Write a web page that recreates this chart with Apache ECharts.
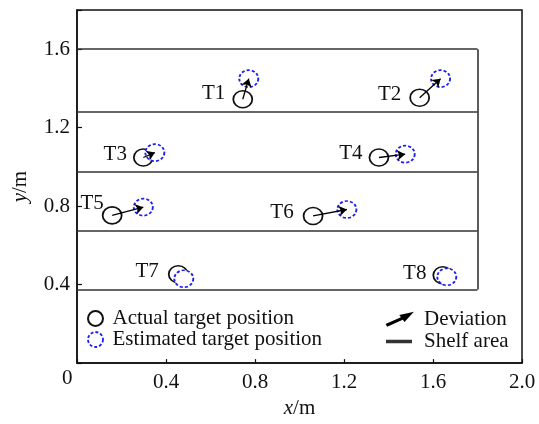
<!DOCTYPE html>
<html>
<head>
<meta charset="utf-8">
<script src="https://cdn.jsdelivr.net/npm/echarts@6/dist/echarts.min.js"></script>
<style>
  html, body { margin: 0; padding: 0; background: #fff; }
  #main { width: 539px; height: 424px; }
</style>
</head>
<body>
<div id="main"></div>
<script>
// targets (metres)
var targetNames = ["T1", "T2", "T3", "T4", "T5", "T6", "T7", "T8"];
var actualX = [0.745, 1.54, 0.298, 1.357, 0.158, 1.061, 0.455, 1.644];
var actualY = [1.345, 1.353, 1.048, 1.048, 0.753, 0.750, 0.453, 0.448];
var estX = [0.772, 1.634, 0.350, 1.475, 0.298, 1.213, 0.480, 1.662];
var estY = [1.450, 1.450, 1.073, 1.065, 0.795, 0.783, 0.430, 0.440];

// shelf boundaries
var shelfY = [1.6, 1.28, 0.975, 0.675, 0.375];
var shelfEnd = 1.8;

var xTicks = [0.4, 0.8, 1.2, 1.6, 2.0];
var yTicks = [0.4, 0.8, 1.2, 1.6];

var serif = '"Liberation Serif", "DejaVu Serif", serif';
var chart = echarts.init(document.getElementById("main"));

// label nudges [dx, dy] for T1..T8
var labelNudge = [[-1, -6], [-2, -3], [0, -3], [0, -4], [8, -12], [-3, -3], [-3, -3], [0, -2]];

var actualData = [], estData = [], arrowData = [], shelfData = [];
for (var i = 0; i < targetNames.length; i++) {
  actualData.push({
    name: targetNames[i],
    value: [actualX[i], actualY[i]],
    label: { offset: labelNudge[i] }
  });
  estData.push({ name: targetNames[i], value: [estX[i], estY[i]] });
  var d = Math.sqrt(Math.pow(estX[i] - actualX[i], 2) + Math.pow(estY[i] - actualY[i], 2));
  if (d > 0.05) {
    arrowData.push({ coords: [[actualX[i], actualY[i]], [estX[i], estY[i]]] });
  }
}
for (var j = 0; j < shelfY.length; j++) {
  shelfData.push({ coords: [[0, shelfY[j]], [shelfEnd, shelfY[j]]] });
}
shelfData.push({ coords: [[shelfEnd, shelfY[shelfY.length - 1]], [shelfEnd, shelfY[0]]] });

var arrowIcon = "path://M0,11 L17,3.4 L17.6,4.4 L0.6,12 Z M24,0 L14,2.2 L17.6,7 Z";

var option = {
  backgroundColor: "#fff",
  animation: false,
  textStyle: { fontFamily: serif },
  grid: {
    left: 77, top: 10, right: 17, bottom: 57,
    show: true, borderColor: "#111", borderWidth: 1.5
  },
  legend: [
    {
      orient: "vertical", left: 82, top: 303, itemGap: 0,
      itemWidth: 20, itemHeight: 15,
      textStyle: { fontFamily: serif, fontSize: 21, color: "#111", padding: [0, 0, 0, 2] },
      data: [
        { name: "Actual target position" },
        { name: "Estimated target position", itemStyle: { borderType: [3, 2], borderWidth: 1.8 } }
      ]
    },
    {
      orient: "vertical", left: 381, top: 304,
      itemWidth: 24, itemHeight: 12,
      textStyle: { fontFamily: serif, fontSize: 21, color: "#111", padding: [0, 0, 0, 8] },
      data: [{ name: "Deviation", icon: arrowIcon }]
    },
    {
      orient: "vertical", left: 381, top: 326,
      itemWidth: 24, itemHeight: 1.5,
      textStyle: { fontFamily: serif, fontSize: 21, color: "#111", padding: [0, 0, 0, 8] },
      data: [{ name: "Shelf area", icon: "rect" }]
    }
  ],
  xAxis: {
    type: "value", min: 0, max: 2.0, interval: 0.4,
    name: "{i|x}/m", nameLocation: "middle", nameGap: 30,
    nameTextStyle: {
      fontFamily: serif, fontSize: 21, color: "#111",
      rich: { i: { fontFamily: serif, fontSize: 21, fontStyle: "italic", color: "#111" } }
    },
    axisLine: { show: true, lineStyle: { color: "#111", width: 1.5 } },
    axisTick: { show: true, inside: true, length: 4, lineStyle: { color: "#111", width: 1.2 } },
    axisLabel: {
      margin: 9, fontFamily: serif, fontSize: 21, color: "#111",
      formatter: function (v) {
        for (var k = 0; k < xTicks.length; k++) {
          if (Math.abs(xTicks[k] - v) < 1e-6) return v.toFixed(1);
        }
        return "";
      }
    },
    splitLine: { show: false }
  },
  yAxis: {
    type: "value", min: 0, max: 1.8, interval: 0.4,
    name: "{i|y}/m", nameLocation: "middle", nameGap: 46, nameRotate: 90,
    nameTextStyle: {
      fontFamily: serif, fontSize: 21, color: "#111",
      rich: { i: { fontFamily: serif, fontSize: 21, fontStyle: "italic", color: "#111" } }
    },
    axisLine: { show: true, lineStyle: { color: "#111", width: 1.5 } },
    axisTick: { show: true, inside: true, length: 5, lineStyle: { color: "#111", width: 1.2 } },
    axisLabel: {
      margin: 7, fontFamily: serif, fontSize: 21, color: "#111",
      formatter: function (v) {
        for (var k = 0; k < yTicks.length; k++) {
          if (Math.abs(yTicks[k] - v) < 1e-6) return v.toFixed(1);
        }
        return "";
      }
    },
    splitLine: { show: false }
  },
  graphic: [
    {
      type: "text", left: 62, top: 368,
      style: { text: "0", font: "21px " + serif, fill: "#111" }
    }
  ],
  series: [
    {
      name: "Shelf area",
      type: "lines",
      coordinateSystem: "cartesian2d",
      polyline: false,
      symbol: "none",
      lineStyle: { color: "#333", width: 1.6, opacity: 1 },
      itemStyle: { color: "#111" },
      z: 1,
      data: shelfData
    },
    {
      name: "Actual target position",
      type: "scatter",
      symbol: "circle",
      symbolSize: [19, 17],
      itemStyle: { color: "#fff", borderColor: "#111", borderWidth: 1.7, opacity: 1 },
      label: {
        show: true, position: "left", distance: 6, formatter: "{b}",
        fontFamily: serif, fontSize: 21, color: "#111"
      },
      z: 2,
      data: actualData
    },
    {
      name: "Estimated target position",
      type: "scatter",
      symbol: "circle",
      symbolSize: [19, 17],
      itemStyle: {
        color: "#fff", borderColor: "#1f1fee", borderWidth: 1.8,
        borderType: [3, 2], opacity: 1
      },
      z: 3,
      data: estData
    },
    {
      name: "Deviation",
      type: "lines",
      coordinateSystem: "cartesian2d",
      symbol: ["none", "arrow"],
      symbolSize: 8,
      lineStyle: { color: "#000", width: 1.3, opacity: 1 },
      itemStyle: { color: "#000" },
      z: 4,
      data: arrowData
    }
  ]
};

chart.setOption(option);
window.onresize = chart.resize;
</script>
</body>
</html>
